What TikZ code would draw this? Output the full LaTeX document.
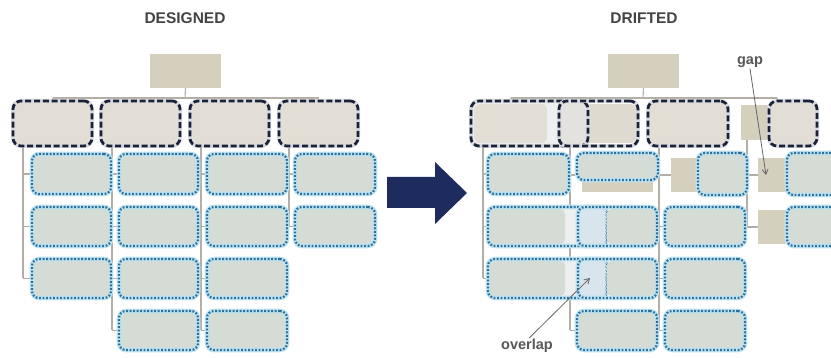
\documentclass[tikz,border=0pt]{standalone}
\usepackage{fontspec}
\setmainfont{Liberation Sans}
\usetikzlibrary{arrows.meta,backgrounds}
\definecolor{tanc}{HTML}{D5CFBE}
\definecolor{lonefill}{HTML}{E2DED6}
\definecolor{lonefillB}{HTML}{DEDAD0}
\definecolor{ltwofill}{HTML}{D5DBD5}
\definecolor{stripc}{HTML}{EDEFF1}
\definecolor{ovlgrey}{HTML}{E4E2DE}
\definecolor{ovlblue}{HTML}{D6E4EC}
\definecolor{navyd}{HTML}{1B2237}
\definecolor{dglow}{HTML}{D8DADF}
\definecolor{dotblue}{HTML}{2C6E9C}
\definecolor{cglow}{HTML}{BFE3EF}
\definecolor{lineclr}{HTML}{B3AEA6}
\definecolor{titlec}{HTML}{444444}
\definecolor{arrowc}{HTML}{1D2B5E}
\definecolor{ptrc}{HTML}{666666}
\newcommand\mkbox[6]{\node[#2, minimum width={(#5)-(#3)}, minimum height={(#6)-(#4)}] (#1) at ({((#3)+(#5))/2},{((#4)+(#6))/2}) {};}
\begin{document}
\begin{tikzpicture}[x=1pt,y=-1pt,
  conn/.style={draw=lineclr, line width=1.1pt},
  topbox/.style={rectangle, fill=tanc, inner sep=0pt, outer sep=0pt},
  dashbox/.style={rectangle, inner sep=0pt, outer sep=0pt, rounded corners=8pt,
     preaction={draw=dglow, line width=4pt, solid},
     draw=navyd, line width=2.7pt, dash pattern=on 6pt off 2.8pt},
  dashfill/.style={preaction={fill=lonefill}, dashbox},
  dotbox/.style={rectangle, inner sep=0pt, outer sep=0pt, rounded corners=7pt,
     preaction={draw=cglow, line width=4.6pt, solid},
     draw=dotblue, line width=2.2pt, dash pattern=on 1.8pt off 1.7pt},
  dotfill/.style={preaction={fill=ltwofill}, dotbox},
  title/.style={font=\bfseries\fontsize{15.5}{18}\selectfont, text=titlec, inner sep=0pt},
  lab/.style={font=\bfseries\fontsize{14.5}{17}\selectfont, text=ptrc!85!black, inner sep=1pt},
  ptr/.style={draw=ptrc, line width=0.8pt, -{Straight Barb[length=5pt,width=6pt]}}
]
\useasboundingbox (0,0) rectangle (831,358);
\clip (0,0) rectangle (831,358);

% ---------------- titles
\node[title] (tdes) at (185,18) {DESIGNED};
\node[title] (tdri) at (644,18) {DRIFTED};

% ================= LEFT (designed)
\mkbox{LT}{topbox}{150}{54}{221}{88}
\mkbox{LA}{dashfill}{13}{101}{92}{146}
\mkbox{LB}{dashfill}{101}{101}{180}{146}
\mkbox{LC}{dashfill}{190}{101}{269}{146}
\mkbox{LD}{dashfill}{279}{101}{358}{146}
% column 1
\mkbox{La1}{dotfill}{32}{154}{111}{194}
\mkbox{La2}{dotfill}{32}{207}{111}{246}
\mkbox{La3}{dotfill}{32}{259}{111}{298}
% column 2
\mkbox{Lb1}{dotfill}{119}{154}{198}{194}
\mkbox{Lb2}{dotfill}{119}{207}{198}{246}
\mkbox{Lb3}{dotfill}{119}{259}{198}{298}
\mkbox{Lb4}{dotfill}{119}{311}{198}{350}
% column 3
\mkbox{Lc1}{dotfill}{207}{154}{287}{194}
\mkbox{Lc2}{dotfill}{207}{207}{287}{246}
\mkbox{Lc3}{dotfill}{207}{259}{287}{298}
\mkbox{Lc4}{dotfill}{207}{311}{287}{350}
% column 4
\mkbox{Ld1}{dotfill}{295}{154}{375}{194}
\mkbox{Ld2}{dotfill}{295}{207}{375}{246}

\coordinate (Lbus) at (185,98);
\coordinate (Lva) at (23,278.5);
\coordinate (Lvb) at (112,330.5);
\coordinate (Lvc) at (201,330.5);
\coordinate (Lvd) at (289,226.5);

\begin{scope}[on background layer]
  \draw[conn] (LT.south) -- (Lbus);
  \draw[conn] (LA.north |- Lbus) -- (LD.north |- Lbus);
  \foreach \n in {LA,LB,LC,LD} \draw[conn] (\n.north |- Lbus) -- (\n.north);
  \draw[conn] (Lva |- LA.south) -- (Lva);
  \draw[conn] (Lvb |- LB.south) -- (Lvb);
  \draw[conn] (Lvc |- LC.south) -- (Lvc);
  \draw[conn] (Lvd |- LD.south) -- (Lvd);
  \foreach \n in {La1,La2,La3} \draw[conn] (\n.west -| Lva) -- (\n.west);
  \foreach \n in {Lb1,Lb2,Lb3,Lb4} \draw[conn] (\n.west -| Lvb) -- (\n.west);
  \foreach \n in {Lc1,Lc2,Lc3,Lc4} \draw[conn] (\n.west -| Lvc) -- (\n.west);
  \foreach \n in {Ld1,Ld2} \draw[conn] (\n.west -| Lvd) -- (\n.west);
\end{scope}

% ---------------- big arrow
\fill[arrowc] (387,177) -- (435,177) -- (435,162) -- (467,193) -- (435,224) -- (435,208) -- (387,208) -- cycle;

% ================= RIGHT (drifted)
\mkbox{RT}{topbox}{608}{54}{679}{88}
% level 1: A and B overlap
\fill[stripc, rounded corners=7pt] (471,101) rectangle (588,146);
\fill[lonefill, rounded corners=6pt] (474,104) rectangle (547,143);
\fill[lonefillB, rounded corners=6pt] (585,104) rectangle (636,143);
\fill[ovlgrey] (560,103) rectangle (588,144);
\mkbox{RA}{dashbox}{471}{101}{588}{146}
\mkbox{RB}{dashbox}{559}{101}{638}{146}
\mkbox{RC}{dashfill}{648}{101}{728}{146}
\mkbox{Rtan}{topbox}{741}{105}{771}{140}
\mkbox{RD}{dashfill}{769}{101}{817}{146}

% column 1
\mkbox{Ra1}{dotfill}{488}{154}{569}{194}
% rows 2 and 3: column 1 widened, overlapping column 2
\foreach \ya/\yb in {207/246, 259/298}{
  \fill[stripc, rounded corners=6pt] (488,\ya) rectangle (607,\yb);
  \fill[ltwofill, rounded corners=5pt] (490,\ya+2) rectangle (565,\yb-2);
}
\mkbox{Ra2}{dotbox}{488}{207}{607}{246}
\mkbox{Ra3}{dotbox}{488}{259}{607}{298}
\foreach \ya/\yb in {207/246, 259/298}{
  \fill[ovlblue, opacity=0.85] (579,\ya+1.5) rectangle (606,\yb-1.5);
  \fill[ltwofill, rounded corners=5pt] (606.5,\ya+2) rectangle (655,\yb-2);
  \draw[dotblue!45, line width=1.2pt, dash pattern=on 1.5pt off 1.8pt] (606,\ya+4) -- (606,\yb-4);
}
% column 2
\mkbox{Rb1t}{topbox}{582}{157}{653}{192}
\mkbox{Rb1}{dotfill}{577}{153}{658}{180}
\mkbox{Rb2}{dotbox}{578}{207}{657}{246}
\mkbox{Rb3}{dotbox}{578}{259}{657}{298}
\mkbox{Rb4}{dotfill}{577}{311}{657}{350}
% column 3
\mkbox{Rc1t}{topbox}{671}{158}{745}{192}
\mkbox{Rc1}{dotfill}{698}{153}{747}{195}
\mkbox{Rc2}{dotfill}{665}{207}{745}{246}
\mkbox{Rc3}{dotfill}{665}{259}{745}{298}
\mkbox{Rc4}{dotfill}{665}{311}{745}{350}
% column 4
\mkbox{Rd1t}{topbox}{758}{158}{795}{192}
\mkbox{Rd1}{dotfill}{787}{153}{845}{195}
\mkbox{Rd2t}{topbox}{758}{210}{795}{244}
\mkbox{Rd2}{dotfill}{787}{207}{845}{246}

\coordinate (Rbus) at (643,98);
\coordinate (RbusA) at (511,98);
\coordinate (RbusB) at (600,98);
\coordinate (RbusC) at (688,98);
\coordinate (RbusD) at (777,98);
\coordinate (Rva) at (483,278.5);
\coordinate (Rvb) at (570,330.5);
\coordinate (Rvc) at (659,330.5);
\coordinate (Rvd) at (747,227);

\begin{scope}[on background layer]
  \draw[conn] (RT.south) -- (Rbus);
  \draw[conn] (RbusA) -- (RbusD);
  \draw[conn] (RbusA) -- (RbusA |- RA.north);
  \draw[conn] (RbusB) -- (RbusB |- RB.north);
  \draw[conn] (RbusC) -- (RbusC |- RC.north);
  \draw[conn] (RbusD) -- (RbusD |- Rtan.north);
  \draw[conn] (Rva |- RA.south) -- (Rva);
  \draw[conn] (Rvb |- RB.south) -- (Rvb);
  \draw[conn] (Rvc |- RC.south) -- (Rvc);
  \draw[conn] (Rvd |- Rtan.south) -- (Rvd);
  \foreach \n in {Ra1,Ra2,Ra3} \draw[conn] (\n.west -| Rva) -- (\n.west);
  \draw[conn] (Rb1t.west |- 0,175) -- (Rvb |- 0,175);
  \foreach \n in {Rb2,Rb3,Rb4} \draw[conn] (\n.west -| Rvb) -- (\n.west);
  \draw[conn] (Rc1t.west) -- (Rc1t.west -| Rvc);
  \foreach \n in {Rc2,Rc3,Rc4} \draw[conn] (\n.west -| Rvc) -- (\n.west);
  \draw[conn] (Rd1t.west) -- (Rd1t.west -| Rvd);
  \draw[conn] (Rd2t.west) -- (Rd2t.west -| Rvd);
\end{scope}

% ---------------- annotations
\node[lab] (gap) at (750,62) {gap};
\coordinate (gaptip) at (766,175);
\draw[ptr] (gap.south) -- (gaptip);
\node[lab] (ovl) at (527,346) {overlap};
\coordinate (ovltip) at (590,278);
\draw[ptr] (ovl.75) -- (ovltip);
\end{tikzpicture}
\end{document}
